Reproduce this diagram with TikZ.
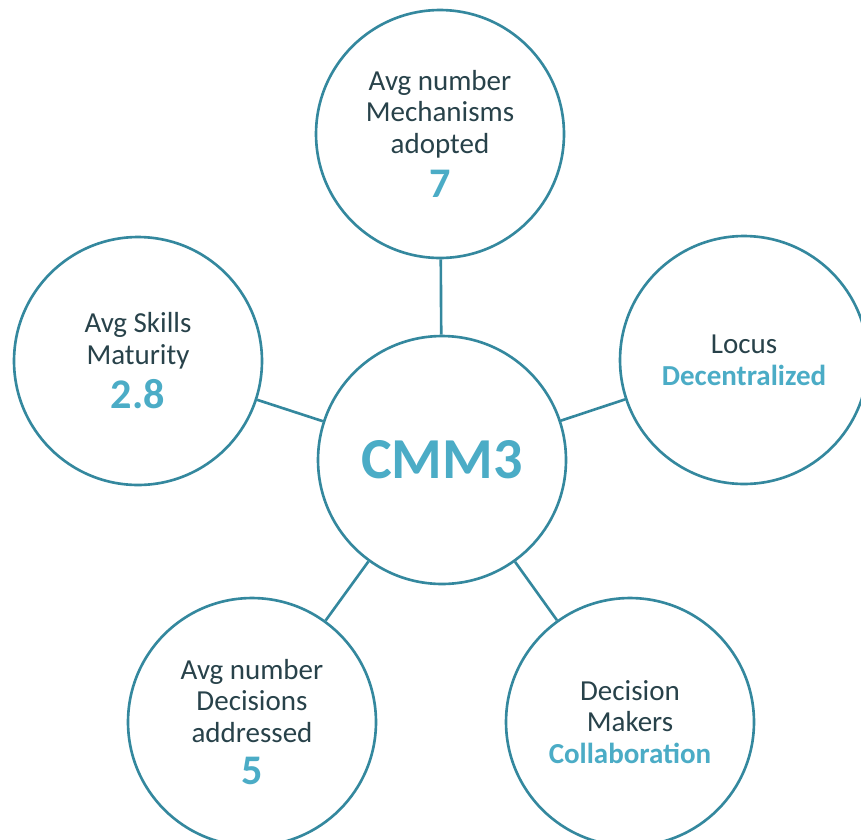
\documentclass[tikz,border=0pt]{standalone}
\usepackage{fontspec}
\setmainfont{Carlito}
\usepackage{tikz}
\usetikzlibrary{positioning}
\definecolor{cmmteal}{RGB}{52,136,158}
\definecolor{cmmblue}{RGB}{75,172,198}
\definecolor{cmmink}{RGB}{40,66,74}

\newcommand{\cmmval}[1]{{\color{cmmblue}\bfseries #1}}
\newcommand{\cmmbig}[1]{{\fontsize{24}{26}\selectfont\color{cmmblue}\bfseries #1}}

\begin{document}
\begin{tikzpicture}[x=0.02cm, y=-0.02cm,
  bubble/.style={circle, draw=cmmteal, fill=white, line width=1.5pt,
    minimum size=4.96cm, inner sep=0pt, align=center, text=cmmink,
    font=\fontsize{16.5}{18}\selectfont},
  link/.style={draw=cmmteal, line width=1.5pt}]
  \useasboundingbox (0,0) rectangle (861,839);

  % Central node
  \node[bubble, font=\fontsize{33}{36}\selectfont\bfseries, text=cmmblue]
    (C) at (442,460) {CMM3};

  % Five satellites
  \node[bubble] (mech) at (440,134)
    {Avg number\\Mechanisms\\adopted\\[6pt]\cmmbig{7}};
  \node[bubble] (skills) at (138,361)
    {Avg Skills\\Maturity\\[5pt]\cmmbig{2.8}};
  \node[bubble] (locus) at (744,360)
    {Locus\\\cmmval{Decentralized}};
  \node[bubble] (decis) at (252,722)
    {Avg number\\Decisions\\addressed\\[6pt]\cmmbig{5}};
  \node[bubble] (makers) at (630,722)
    {Decision\\Makers\\\cmmval{Collaboration}};

  \foreach \k in {mech, skills, locus, decis, makers}
    \draw[link] (C) -- (\k);
\end{tikzpicture}
\end{document}
